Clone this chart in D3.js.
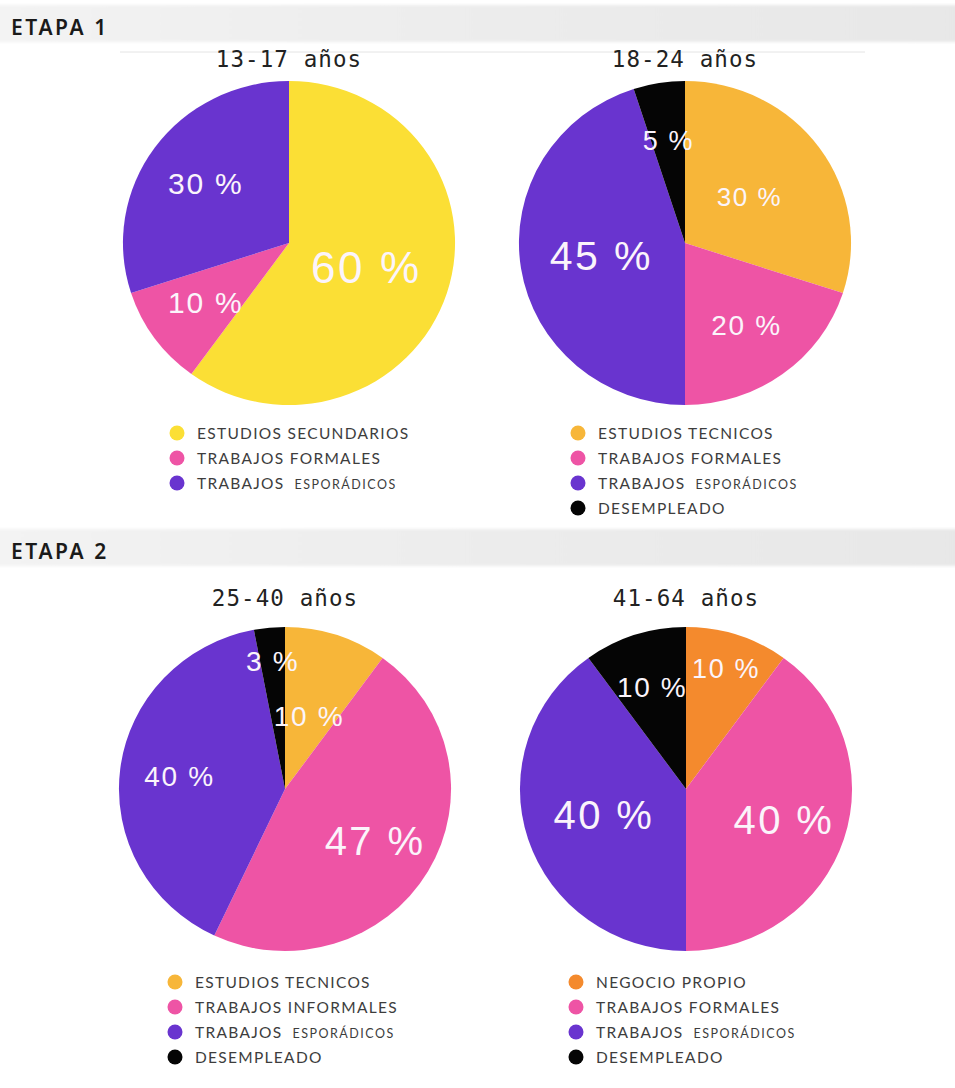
<!DOCTYPE html>
<html>
<head>
<meta charset="utf-8">
<script src="https://cdn.jsdelivr.net/npm/d3@7"></script>
<style>
  html, body { margin: 0; padding: 0; background: #ffffff; }
  svg { display: block; }
</style>
</head>
<body>
<svg id="chart" width="955" height="1088"></svg>
<script>
// ---- Data ----
const stageNames = ["ETAPA 1", "ETAPA 2"];
const ageGroups = ["13-17 años", "18-24 años", "25-40 años", "41-64 años"];

const cats1317 = ["ESTUDIOS SECUNDARIOS", "TRABAJOS FORMALES", "TRABAJOS ESPORÁDICOS"];
const vals1317 = [60, 10, 30];

const cats1824 = ["ESTUDIOS TECNICOS", "TRABAJOS FORMALES", "TRABAJOS ESPORÁDICOS", "DESEMPLEADO"];
const vals1824 = [30, 20, 45, 5];

const cats2540 = ["ESTUDIOS TECNICOS", "TRABAJOS INFORMALES", "TRABAJOS ESPORÁDICOS", "DESEMPLEADO"];
const vals2540 = [10, 47, 40, 3];

const cats4164 = ["NEGOCIO PROPIO", "TRABAJOS FORMALES", "TRABAJOS ESPORÁDICOS", "DESEMPLEADO"];
const vals4164 = [10, 40, 40, 10];

// ---- Colours ----
const YELLOW = "#fbdf35", AMBER = "#f7b639", PINK = "#ee54a5",
      PURPLE = "#6934cf", BLACK = "#050505", ORANGE = "#f48a2d";
const colors1317 = [YELLOW, PINK, PURPLE];
const colors1824 = [AMBER, PINK, PURPLE, BLACK];
const colors2540 = [AMBER, PINK, PURPLE, BLACK];
const colors4164 = [ORANGE, PINK, PURPLE, BLACK];

// ---- Layout ----
const panels = [
  { title: ageGroups[0], cats: cats1317, vals: vals1317, colors: colors1317,
    cx: 289, cy: 243, titleY: 67, legendX: 177, legendY: 433,
    labelR: [0.49, 0.62, 0.62], labelSize: [44, 30, 30] },
  { title: ageGroups[1], cats: cats1824, vals: vals1824, colors: colors1824,
    cx: 685, cy: 243, titleY: 67, legendX: 578, legendY: 433,
    labelR: [0.48, 0.63, 0.51, 0.64], labelSize: [26, 28, 41, 27] },
  { title: ageGroups[2], cats: cats2540, vals: vals2540, colors: colors2540,
    cx: 285, cy: 789, titleY: 606, legendX: 175, legendY: 982,
    labelR: [0.47, 0.63, 0.64, 0.79], labelSize: [28, 40, 28, 28] },
  { title: ageGroups[3], cats: cats4164, vals: vals4164, colors: colors4164,
    cx: 686, cy: 789, titleY: 606, legendX: 576, legendY: 982,
    labelR: [0.78, 0.62, 0.52, 0.66], labelSize: [27, 40, 40, 28] }
];
const R = 162;       // vertical radius
const SX = 1.025;    // slight horizontal stretch of each pie

const svg = d3.select("#chart");

// ---- Stage header bands ----
const defs = svg.append("defs");
const grad = defs.append("linearGradient").attr("id", "band").attr("x1", "0").attr("x2", "1");
grad.append("stop").attr("offset", "0").attr("stop-color", "#f3f3f3");
grad.append("stop").attr("offset", "0.5").attr("stop-color", "#ececec");
grad.append("stop").attr("offset", "1").attr("stop-color", "#e7e7e7");
defs.append("filter").attr("id", "soft").append("feGaussianBlur").attr("stdDeviation", 1.5);

const bands = [{ name: stageNames[0], y: 5, textY: 35 }, { name: stageNames[1], y: 529, textY: 559 }];
bands.forEach(b => {
  svg.append("rect").attr("x", -5).attr("y", b.y).attr("width", 970).attr("height", 37)
    .attr("fill", "url(#band)").attr("filter", "url(#soft)");
  svg.append("text").attr("x", 11).attr("y", b.textY).text(b.name)
    .attr("font-family", "'Noto Sans', 'DejaVu Sans', sans-serif").attr("font-weight", 600)
    .attr("font-size", 21).attr("letter-spacing", 2.6).attr("fill", "#1a1a1a");
});
// thin rule under the first header
svg.append("line").attr("x1", 120).attr("x2", 865).attr("y1", 52).attr("y2", 52)
  .attr("stroke", "#e4e4e4").attr("stroke-width", 1);

// ---- Pies ----
const pie = d3.pie().sort(null).value(d => d);
const arc = d3.arc().innerRadius(0).outerRadius(R);

panels.forEach(p => {
  const g = svg.append("g").attr("transform", `translate(${p.cx},${p.cy})`);

  // title
  svg.append("text").attr("x", p.cx).attr("y", p.titleY).attr("text-anchor", "middle")
    .text(p.title)
    .attr("font-family", "'DejaVu Sans Mono', monospace").attr("font-size", 22.5)
    .attr("letter-spacing", 1.1).attr("fill", "#222");

  const arcs = pie(p.vals);
  g.append("g").attr("transform", `scale(${SX},1)`)
    .selectAll("path").data(arcs).join("path")
    .attr("d", arc)
    .attr("fill", (d, i) => p.colors[i]);

  // percentage labels at each slice's centroid
  g.selectAll("text.pct").data(arcs).join("text")
    .attr("class", "pct")
    .each(function (d, i) {
      const rr = R * p.labelR[i];
      const c = d3.arc().innerRadius(rr).outerRadius(rr).centroid(d);
      d3.select(this).attr("x", c[0] * SX).attr("y", c[1]);
    })
    .attr("text-anchor", "middle").attr("dominant-baseline", "central")
    .attr("font-family", "'Liberation Sans', Arial, sans-serif")
    .attr("font-size", (d, i) => p.labelSize[i])
    .attr("letter-spacing", (d, i) => p.labelSize[i] * 0.06)
    .attr("fill", "#fbf4fb")
    .text(d => `${d.data} %`);

  // legend
  const lg = svg.append("g").attr("transform", `translate(${p.legendX},${p.legendY})`);
  const rows = lg.selectAll("g").data(p.cats).join("g")
    .attr("transform", (d, i) => `translate(0,${i * 25})`);
  rows.append("circle").attr("r", 7.5).attr("fill", (d, i) => p.colors[i]);
  const t = rows.append("text").attr("x", 20).attr("y", 0).attr("dominant-baseline", "central")
    .attr("font-family", "Lato, 'Open Sans', sans-serif").attr("font-size", 15.5)
    .attr("letter-spacing", 1.3).attr("fill", "#3d3d3d");
  t.each(function (d) {
    const el = d3.select(this);
    const parts = d.split(" ");
    if (parts[1] === "ESPORÁDICOS") {
      el.append("tspan").text(parts[0]);
      el.append("tspan").attr("dx", 10).attr("font-size", 12.5).attr("letter-spacing", 1.5)
        .attr("dy", 1).text(parts[1]);
    } else {
      el.text(d);
    }
  });
});
</script>
</body>
</html>
